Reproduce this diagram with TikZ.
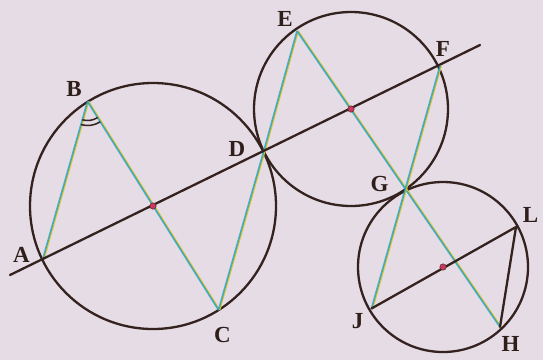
\documentclass[tikz,border=0pt]{standalone}
\usepackage{fontspec}
\setmainfont{Liberation Serif}
\usepackage{tikz}
\usetikzlibrary{calc}

\definecolor{paper}{RGB}{230,220,229}
\definecolor{ink}{RGB}{52,34,30}
\definecolor{chordc}{RGB}{20,160,205}
\definecolor{chordy}{RGB}{225,195,40}
\definecolor{dotred}{RGB}{205,55,95}

% two-tone chord, as printed
\newcommand{\chord}[2]{%
  \draw[chordy] ([xshift=1pt]#1) -- ([xshift=1pt]#2);
  \draw[chordb] (#1) -- (#2);}

\begin{document}
\begin{tikzpicture}[
  x=1pt, y=-1pt,
  circ/.style   = {draw=ink, line width=2.3pt},
  dline/.style  = {draw=ink, line width=2.3pt, line cap=round},
  chordy/.style = {draw=chordy, line width=1.7pt},
  chordb/.style = {draw=chordc, line width=1.7pt, draw opacity=0.75},
  lbl/.style    = {font=\fontsize{23}{23}\selectfont\bfseries, text=ink!90!black, inner sep=0pt},
  ctr/.style    = {circle, fill=dotred, draw=ink, line width=0.4pt, inner sep=0pt, minimum size=6.5pt},
]
  \useasboundingbox[fill=paper] (0,0) rectangle (543,360);

  % centres
  \coordinate (O1) at (153,206);
  \coordinate (O2) at (351,109);
  \coordinate (O3) at (443,267);

  % points
  \coordinate (A) at (42.5,260);
  \coordinate (B) at (87.5,101.5);
  \coordinate (C) at (218.5,310);
  \coordinate (D) at (263.5,152);
  \coordinate (E) at (297,31);
  \coordinate (F) at (440,66);
  \coordinate (G) at (405.5,190.5);
  \coordinate (H) at (500,327);
  \coordinate (J) at (371.5,308.5);
  \coordinate (L) at (516,227);
  \coordinate (lstart) at (10,275);
  \coordinate (lend)   at (480,45);

  % circles
  \draw[circ] (O1) circle[radius=123pt];
  \draw[circ] (O2) circle[radius=97pt];
  \draw[circ] (O3) circle[radius=85pt];

  % chords
  \chord{A}{B}
  \chord{B}{C}
  \chord{C}{D}
  \chord{D}{E}
  \chord{E}{H}
  \chord{F}{J}

  % dark lines
  \draw[dline] (lstart) -- (lend);
  \draw[dline] (J) -- (L);
  \draw[dline] (L) -- (H);

  % angle mark at B
  \draw[ink, line width=1.5pt] ([shift={(-106:19pt)}]B) arc[start angle=-106, end angle=-58, radius=19pt];
  \draw[ink, line width=1.5pt] ([shift={(-106:24pt)}]B) arc[start angle=-106, end angle=-58, radius=24pt];

  % centre dots
  \node[ctr] (c1) at (O1) {};
  \node[ctr] (c2) at (O2) {};
  \node[ctr] (c3) at (O3) {};

  % labels
  \node[lbl] (lA) at (21.5,255) {A};
  \node[lbl] (lB) at (74,88.5)  {B};
  \node[lbl] (lC) at (222.5,335) {C};
  \node[lbl] (lD) at (237,148.5) {D};
  \node[lbl] (lE) at (285,18.5)  {E};
  \node[lbl] (lF) at (443,48.5)  {F};
  \node[lbl] (lG) at (379.5,183.5) {G};
  \node[lbl] (lL) at (530.5,215) {L};
  \node[lbl] (lJ) at (357.5,321.5) {J};
  \node[lbl] (lH) at (510.5,344) {H};
\end{tikzpicture}
\end{document}
